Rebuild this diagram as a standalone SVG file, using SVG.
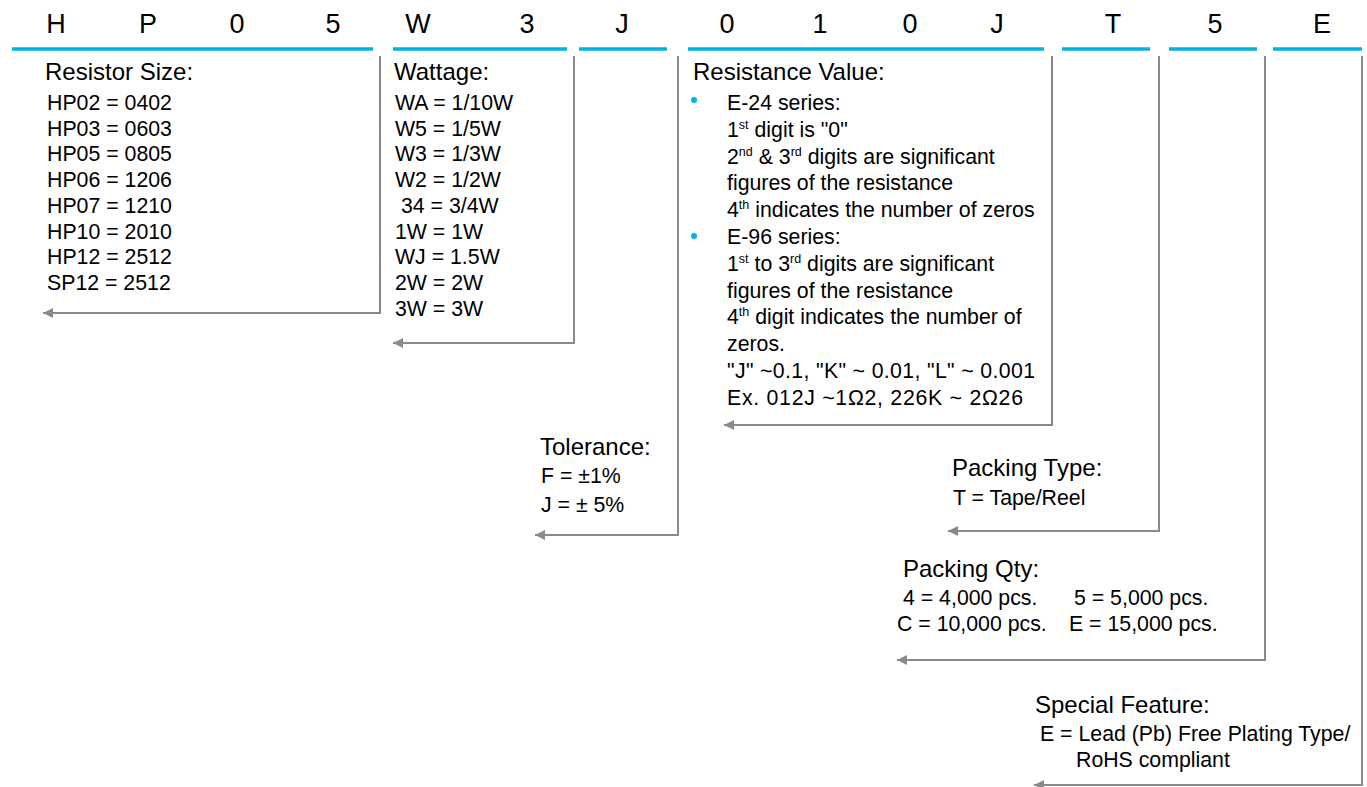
<svg xmlns="http://www.w3.org/2000/svg" width="1367" height="787" viewBox="0 0 1367 787">
<style>
text{font-family:"Liberation Sans",Arial,sans-serif;fill:#000}
.hd{font-size:27px;text-anchor:middle}
.tt{font-size:24px}
.it{font-size:21.3px}
.sup{font-size:12.5px}
.bar{stroke:#00b4e0;stroke-width:3.5;fill:none}
.con{stroke:#8a8a8a;stroke-width:2;fill:none;marker-end:url(#ah)}
.dot{fill:#00b4e0}
</style>
<defs>
<marker id="ah" markerUnits="userSpaceOnUse" markerWidth="12" markerHeight="12" refX="10" refY="5" orient="auto">
<path d="M0,0 L10,5 L0,10 z" fill="#8a8a8a"/>
</marker>
</defs>
<rect width="1367" height="787" fill="#fff"/>
<g id="header">
<text class="hd" x="56" y="33">H</text>
<text class="hd" x="148" y="33">P</text>
<text class="hd" x="237" y="33">0</text>
<text class="hd" x="333" y="33">5</text>
<text class="hd" x="418" y="33">W</text>
<text class="hd" x="527" y="33">3</text>
<text class="hd" x="622" y="33">J</text>
<text class="hd" x="727" y="33">0</text>
<text class="hd" x="820" y="33">1</text>
<text class="hd" x="910" y="33">0</text>
<text class="hd" x="997" y="33">J</text>
<text class="hd" x="1113" y="33">T</text>
<text class="hd" x="1215" y="33">5</text>
<text class="hd" x="1322" y="33">E</text>
<line class="bar" x1="12" y1="49" x2="373" y2="49"/>
<line class="bar" x1="393" y1="49" x2="567" y2="49"/>
<line class="bar" x1="579" y1="49" x2="667" y2="49"/>
<line class="bar" x1="688" y1="49" x2="1044" y2="49"/>
<line class="bar" x1="1062" y1="49" x2="1150" y2="49"/>
<line class="bar" x1="1169" y1="49" x2="1257" y2="49"/>
<line class="bar" x1="1273" y1="49" x2="1362" y2="49"/>
</g>
<g id="connectors">
<path class="con" d="M380,56 V313 H43"/>
<path class="con" d="M574,56 V343 H393"/>
<path class="con" d="M678,56 V535 H535"/>
<path class="con" d="M1052,56 V425 H724"/>
<path class="con" d="M1159,56 V531 H948"/>
<path class="con" d="M1265,56 V660 H897"/>
<path class="con" d="M1362,56 V785 H1034"/>
</g>
<g id="resistor-size">
<text class="tt" x="45" y="80">Resistor Size:</text>
<text class="it" x="47" y="110">HP02 = 0402</text>
<text class="it" x="47" y="136">HP03 = 0603</text>
<text class="it" x="47" y="161">HP05 = 0805</text>
<text class="it" x="47" y="187">HP06 = 1206</text>
<text class="it" x="47" y="213">HP07 = 1210</text>
<text class="it" x="47" y="239">HP10 = 2010</text>
<text class="it" x="47" y="264">HP12 = 2512</text>
<text class="it" x="47" y="290">SP12 = 2512</text>
</g>
<g id="wattage">
<text class="tt" x="394" y="80">Wattage:</text>
<text class="it" x="395" y="110">WA = 1/10W</text>
<text class="it" x="395" y="136">W5 = 1/5W</text>
<text class="it" x="395" y="161">W3 = 1/3W</text>
<text class="it" x="395" y="187">W2 = 1/2W</text>
<text class="it" x="395" y="213" xml:space="preserve"> 34 = 3/4W</text>
<text class="it" x="395" y="239">1W = 1W</text>
<text class="it" x="395" y="264">WJ = 1.5W</text>
<text class="it" x="395" y="290">2W = 2W</text>
<text class="it" x="395" y="316">3W = 3W</text>
</g>
<g id="resistance-value">
<text class="tt" x="693" y="80">Resistance Value:</text>
<circle class="dot" cx="694" cy="100" r="3"/>
<circle class="dot" cx="694" cy="236" r="3"/>
<text class="it" x="727" y="110">E-24 series:</text>
<text class="it" x="727" y="137">1<tspan class="sup" dy="-8">st</tspan><tspan dy="8"> digit is "0"</tspan></text>
<text class="it" x="727" y="164">2<tspan class="sup" dy="-8">nd</tspan><tspan dy="8"> &amp; 3</tspan><tspan class="sup" dy="-8">rd</tspan><tspan dy="8"> digits are significant</tspan></text>
<text class="it" x="727" y="190">figures of the resistance</text>
<text class="it" x="727" y="217">4<tspan class="sup" dy="-8">th</tspan><tspan dy="8"> indicates the number of zeros</tspan></text>
<text class="it" x="727" y="244">E-96 series:</text>
<text class="it" x="727" y="271">1<tspan class="sup" dy="-8">st</tspan><tspan dy="8"> to 3</tspan><tspan class="sup" dy="-8">rd</tspan><tspan dy="8"> digits are significant</tspan></text>
<text class="it" x="727" y="298">figures of the resistance</text>
<text class="it" x="727" y="324">4<tspan class="sup" dy="-8">th</tspan><tspan dy="8"> digit indicates the number of</tspan></text>
<text class="it" x="727" y="351">zeros.</text>
<text class="it" x="727" y="378" textLength="308" lengthAdjust="spacing">"J" ~0.1, "K" ~ 0.01, "L" ~ 0.001</text>
<text class="it" x="727" y="405" textLength="296" lengthAdjust="spacing">Ex. 012J ~1Ω2, 226K ~ 2Ω26</text>
</g>
<g id="tolerance">
<text class="tt" x="540" y="455">Tolerance:</text>
<text class="it" x="541" y="483">F = ±1%</text>
<text class="it" x="541" y="512">J = ± 5%</text>
</g>
<g id="packing-type">
<text class="tt" x="952" y="476">Packing Type:</text>
<text class="it" x="953" y="505">T = Tape/Reel</text>
</g>
<g id="packing-qty">
<text class="tt" x="903" y="577">Packing Qty:</text>
<text class="it" x="903" y="605">4 = 4,000 pcs.</text>
<text class="it" x="1074" y="605">5 = 5,000 pcs.</text>
<text class="it" x="897" y="631">C = 10,000 pcs.</text>
<text class="it" x="1069" y="631">E = 15,000 pcs.</text>
</g>
<g id="special-feature">
<text class="tt" x="1035" y="713">Special Feature:</text>
<text class="it" x="1040" y="741">E = Lead (Pb) Free Plating Type/</text>
<text class="it" x="1076" y="767">RoHS compliant</text>
</g>
</svg>
